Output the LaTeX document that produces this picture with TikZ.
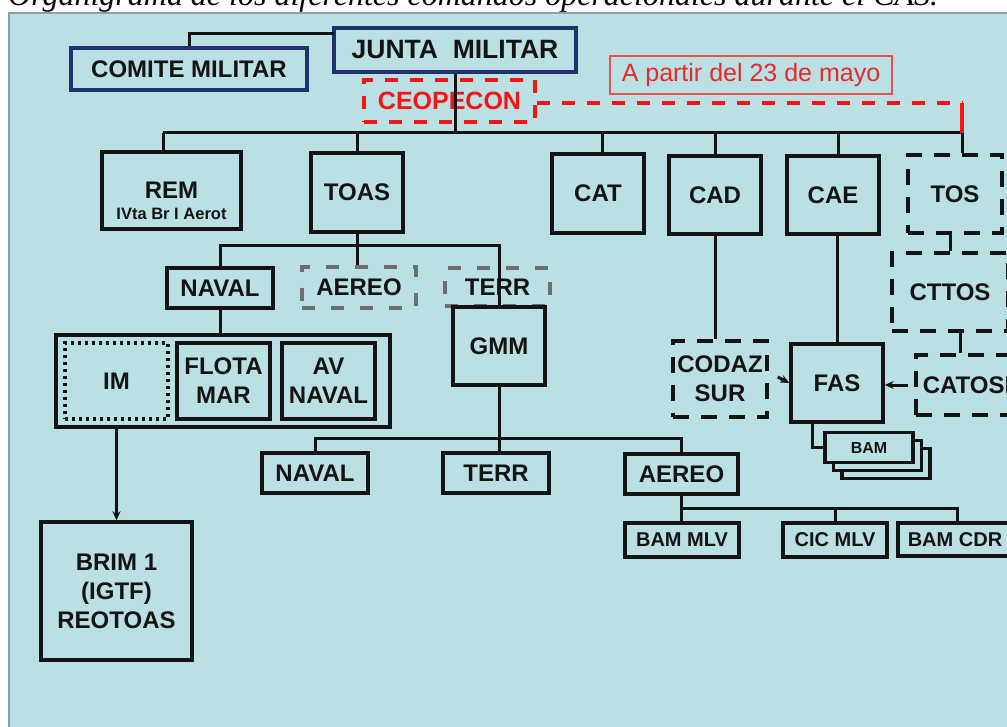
\documentclass[tikz,border=0pt]{standalone}
\usepackage{fontspec}
\setmainfont{Liberation Sans}
\newfontfamily\titlefont{Liberation Serif}
\usetikzlibrary{arrows.meta}
\definecolor{panel}{RGB}{186,224,228}
\definecolor{bordergray}{RGB}{140,160,165}
\definecolor{navy}{RGB}{30,50,110}
\definecolor{boxred}{RGB}{232,80,80}
\definecolor{txtred}{RGB}{235,40,40}
\definecolor{brightred}{RGB}{245,20,20}
\definecolor{dgray}{RGB}{110,110,110}
\definecolor{ink}{RGB}{20,20,20}
\tikzset{
  box/.style={draw=ink, line width=3.4pt, inner sep=0pt, align=center, text=ink,
    font=\bfseries\fontsize{24}{29}\selectfont},
  navybox/.style={box, draw=navy},
  dbox/.style={box, dash pattern=on 16pt off 12pt},
  gbox/.style={box, draw=dgray, dash pattern=on 13pt off 16pt},
  dotbox/.style={box, line width=3.6pt, dash pattern=on 3pt off 4pt},
  redbox/.style={box, draw=brightred, text=brightred, dash pattern=on 13pt off 12pt},
  notebox/.style={draw=boxred, line width=1.6pt, inner sep=0pt, text=txtred,
    font=\fontsize{25}{29}\selectfont},
  smallbox/.style={box, font=\bfseries\fontsize{20}{24}\selectfont},
  stackbox/.style={box, fill=panel, font=\bfseries\fontsize{16}{20}\selectfont},
  con/.style={draw=ink, line width=3pt},
  redline/.style={draw=brightred, line width=3.2pt, dash pattern=on 13pt off 12pt},
  arr/.style={con, -{Stealth[length=9pt,width=8pt]}}
}
\begin{document}
\begin{tikzpicture}[x=1pt,y=-1pt]
\useasboundingbox (0,0) rectangle (1007,727);
\fill[white] (0,0) rectangle (1007,727);
\fill[panel] (9,13) rectangle (1012,730);
\draw[bordergray, line width=1.2pt] (1012,13) -- (9,13) -- (9,730);
\node[anchor=base west, inner sep=0pt, text=black,
  font=\titlefont\itshape\fontsize{32}{36}\selectfont] (title) at (8,6)
  {Organigrama de los diferentes comandos operacionales durante el CAS.};

% top level
\node[navybox, minimum width=242, minimum height=44,
  font=\bfseries\fontsize{26.5}{30}\selectfont] (junta) at (455,50) {JUNTA\ \ MILITAR};
\node[navybox, minimum width=236, minimum height=42] (comite) at (189,69) {COMITE MILITAR};
\node[notebox, minimum width=282, minimum height=38] (note) at (751,75) {A partir del 23 de mayo};
\node[redbox, minimum width=171, minimum height=42, font=\bfseries\fontsize{25}{29}\selectfont]
  (ceopecon) at (449.5,101) {CEOPECON};

% second level
\node[box, minimum width=139, minimum height=77] (rem) at (171.5,190.5) {REM};
\node[inner sep=0pt, text=ink, font=\bfseries\fontsize{16.5}{20}\selectfont] (remsub)
  at (171.5,214) {IVta Br I Aerot};
\node[box, minimum width=92, minimum height=79] (toas) at (357,192.5) {TOAS};
\node[box, minimum width=92, minimum height=79] (cat) at (598,193.5) {CAT};
\node[box, minimum width=92, minimum height=78] (cad) at (715,195) {CAD};
\node[box, minimum width=92, minimum height=78] (cae) at (833,195) {CAE};
\node[dbox, minimum width=94, minimum height=78] (tos) at (955,194) {TOS};
\node[dbox, minimum width=116, minimum height=78] (cttos) at (950,292) {CTTOS};
\node[dbox, minimum width=102, minimum height=60] (catosi) at (967,385) {CATOSI};

% TOAS branch
\node[box, minimum width=106, minimum height=40] (naval) at (220,288) {NAVAL};
\node[gbox, minimum width=114, minimum height=41] (aereo) at (359,287.5) {AEREO};
\node[gbox, minimum width=105, minimum height=38] (terr) at (497.5,287) {TERR};
\node[box, minimum width=92, minimum height=78] (gmm) at (499,346) {GMM};
\node[box, minimum width=334, minimum height=92] (navgrp) at (223,381) {};
\node[dotbox, minimum width=103, minimum height=76] (im) at (116.5,381) {IM};
\node[box, minimum width=93, minimum height=76] (flota) at (223.5,381) {FLOTA\\MAR};
\node[box, minimum width=93, minimum height=76] (avnaval) at (328.5,381) {AV\\NAVAL};
\node[box, minimum width=151, minimum height=138] (brim) at (116.5,591) {BRIM 1\\(IGTF)\\REOTOAS};
\node[box, minimum width=106, minimum height=40] (naval2) at (315,473) {NAVAL};
\node[box, minimum width=106, minimum height=40] (terr2) at (496,473) {TERR};
\node[box, minimum width=113, minimum height=40] (aereo2) at (681.5,474) {AEREO};
\node[smallbox, minimum width=114, minimum height=34] (bammlv) at (682,540) {BAM MLV};
\node[smallbox, minimum width=104, minimum height=34] (cicmlv) at (835,540) {CIC MLV};
\node[smallbox, minimum width=114, minimum height=33] (bamcdr) at (955,539.5) {BAM CDR};

% CAD / CAE branch
\node[dbox, minimum width=94, minimum height=76] (codaz) at (720,379) {CODAZ\\SUR};
\node[box, minimum width=92, minimum height=78] (fas) at (837,383) {FAS};

% connectors
\coordinate (jc) at (334,34);
\draw[con] (jc) -| (comite.north);
\coordinate (busL) at (163,133);
\coordinate (busR) at (962,133);
\draw[con] (junta.south) -- (junta.south |- busL);
\draw[con] (busL) -- (busR);
\draw[con] (busL) -- (busL |- rem.north);
\draw[con] (toas.north |- busL) -- (toas.north);
\draw[con] ([xshift=4pt]cat.north |- busL) -- ([xshift=4pt]cat.north);
\draw[con] (cad.north |- busL) -- (cad.north);
\draw[con] ([xshift=5pt]cae.north |- busL) -- ([xshift=5pt]cae.north);
\draw[con] (busR) -- (busR |- tos.north);
\draw[redline] (ceopecon.east |- 0,103) -- (962,103);
\draw[draw=brightred, line width=3.2pt] (962,103) -- (busR);

\draw[con] (tos.south -| cttos.north) -- (cttos.north);
\draw[con] (cttos.south -| 960,0) -- (catosi.north -| 960,0);

\coordinate (tsb) at (357,246);
\draw[con] (toas.south) -- (toas.south |- aereo.north);
\draw[con] (naval.north) |- (tsb) -| (gmm.north);
\draw[con] (naval.south) -- (naval.south |- navgrp.north);
\draw[arr] (im.south |- navgrp.south) -- (brim.north);

\coordinate (gsb) at (499,438);
\draw[con] (gmm.south) -- (gmm.south |- terr2.north);
\draw[con] (naval2.north) |- (gsb) -| (aereo2.north);

\coordinate (asb) at (681.5,508);
\draw[con] (aereo2.south) -- (bammlv.north -| aereo2.south);
\draw[con] (asb) -| (cicmlv.north);
\draw[con] (asb) -| ([xshift=2pt]bamcdr.north);

\draw[con] (cad.south) -- (cad.south |- codaz.north);
\draw[con] (fas.north |- cae.south) -- (fas.north);
\draw[arr] ([xshift=9pt,yshift=2pt]codaz.east) -- (fas.west);
\draw[arr] ([xshift=-6pt]catosi.west) -- ([yshift=-2pt]fas.east);

% BAM stack
\node[stackbox, minimum width=88, minimum height=30] (bam3) at (886,463.5) {};
\node[stackbox, minimum width=88, minimum height=30] (bam2) at (877.5,455.5) {};
\node[stackbox, minimum width=88, minimum height=30] (bam1) at (869,447.5) {BAM};
\draw[con] ([xshift=-25pt]fas.south) |- (bam1.west);
\end{tikzpicture}
\end{document}
